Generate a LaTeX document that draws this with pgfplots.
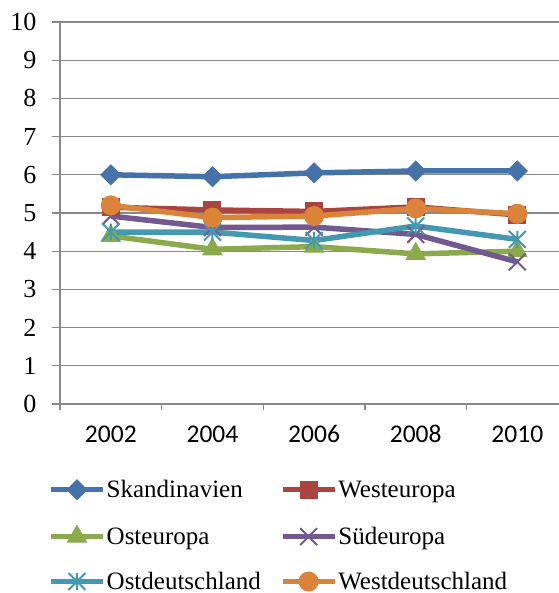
\documentclass[border=0pt]{standalone}
\usepackage{fontspec}
\setmainfont{Liberation Serif}
\newfontfamily\calibri{Carlito}
\usepackage{pgfplots}
\pgfplotsset{compat=1.18}
\definecolor{cBlue}{HTML}{4672AA}
\definecolor{cRed}{HTML}{AA4441}
\definecolor{cGreen}{HTML}{8BAA4B}
\definecolor{cPurple}{HTML}{72598F}
\definecolor{cCyan}{HTML}{4399B1}
\definecolor{cOrange}{HTML}{DC833A}
\definecolor{cGrid}{HTML}{898989}
\pgfdeclareplotmark{xstar}{%
  \pgfpathmoveto{\pgfqpoint{-.7071\pgfplotmarksize}{-.7071\pgfplotmarksize}}%
  \pgfpathlineto{\pgfqpoint{.7071\pgfplotmarksize}{.7071\pgfplotmarksize}}%
  \pgfpathmoveto{\pgfqpoint{-.7071\pgfplotmarksize}{.7071\pgfplotmarksize}}%
  \pgfpathlineto{\pgfqpoint{.7071\pgfplotmarksize}{-.7071\pgfplotmarksize}}%
  \pgfpathmoveto{\pgfqpoint{0pt}{-.7071\pgfplotmarksize}}%
  \pgfpathlineto{\pgfqpoint{0pt}{.7071\pgfplotmarksize}}%
  \pgfusepathqstroke}
\begin{document}
\begin{tikzpicture}
\useasboundingbox (0,0) rectangle (559bp,593bp);
\begin{axis}[
  at={(60bp,189bp)}, anchor=south west,
  scale only axis, width=499bp, height=382bp,
  xmin=-0.5, xmax=4.41, ymin=0, ymax=10,
  axis x line=bottom, axis y line=left,
  axis line style={draw=cGrid, line width=1.3bp, -},
  xtick={0,1,2,3,4},
  xticklabels={2002,2004,2006,2008,2010},
  minor xtick={-0.5,0.5,1.5,2.5,3.5},
  ytick={0,1,...,10},
  ymajorgrids, grid style={draw=cGrid, line width=1.3bp},
  tick align=outside,
  major tick length=8bp, minor tick length=6bp,
  xtick style={draw=none},
  minor x tick style={draw=cGrid, line width=1.3bp},
  ytick style={draw=cGrid, line width=1.3bp},
  xticklabel style={font=\calibri\fontsize{25.5bp}{30bp}\selectfont, yshift=-10bp},
  yticklabel style={font=\fontsize{26bp}{30bp}\selectfont, xshift=-12bp},
  /pgf/number format/assume math mode=true,
  clip=false,
  legend columns=2,
  legend style={at={(-0.024,-0.198)}, anchor=north west, draw=none, fill=none,
    inner sep=0pt, row sep=26bp,
    font=\fontsize{25bp}{29bp}\selectfont,
    nodes={inner ysep=0bp, inner xsep=1bp},
    /tikz/every even column/.append style={column sep=18bp}},
  legend cell align=left,
  legend image code/.code={\draw[mark repeat=2,mark phase=2] plot coordinates {(0bp,0bp) (26bp,0bp) (52bp,0bp)};},
  every axis plot/.append style={line width=5.5bp},
]
\addplot[cBlue, mark=square*, mark size=7bp, mark options={rotate=45, line width=1bp}]
  coordinates {(0,6.0) (1,5.95) (2,6.05) (3,6.1) (4,6.1)};
\addlegendentry{Skandinavien}
\addplot[cRed, mark=square*, mark size=8.5bp, mark options={line width=1bp}]
  coordinates {(0,5.15) (1,5.08) (2,5.04) (3,5.16) (4,4.95)};
\addlegendentry{Westeuropa}
\addplot[cGreen, mark=triangle*, mark size=11bp, mark options={line width=1bp}]
  coordinates {(0,4.4) (1,4.05) (2,4.12) (3,3.93) (4,4.0)};
\addlegendentry{Osteuropa}
\addplot[cPurple, mark=x, mark size=12bp, mark options={line width=2bp}]
  coordinates {(0,4.92) (1,4.62) (2,4.63) (3,4.44) (4,3.72)};
\addlegendentry{Südeuropa}
\addplot[cCyan, mark=xstar, mark size=12bp, mark options={line width=2bp}]
  coordinates {(0,4.5) (1,4.5) (2,4.28) (3,4.66) (4,4.31)};
\addlegendentry{Ostdeutschland}
\addplot[cOrange, mark=*, mark size=9.5bp, mark options={line width=1bp}]
  coordinates {(0,5.2) (1,4.88) (2,4.92) (3,5.12) (4,4.98)};
\addlegendentry{Westdeutschland}
\end{axis}
\end{tikzpicture}
\end{document}
